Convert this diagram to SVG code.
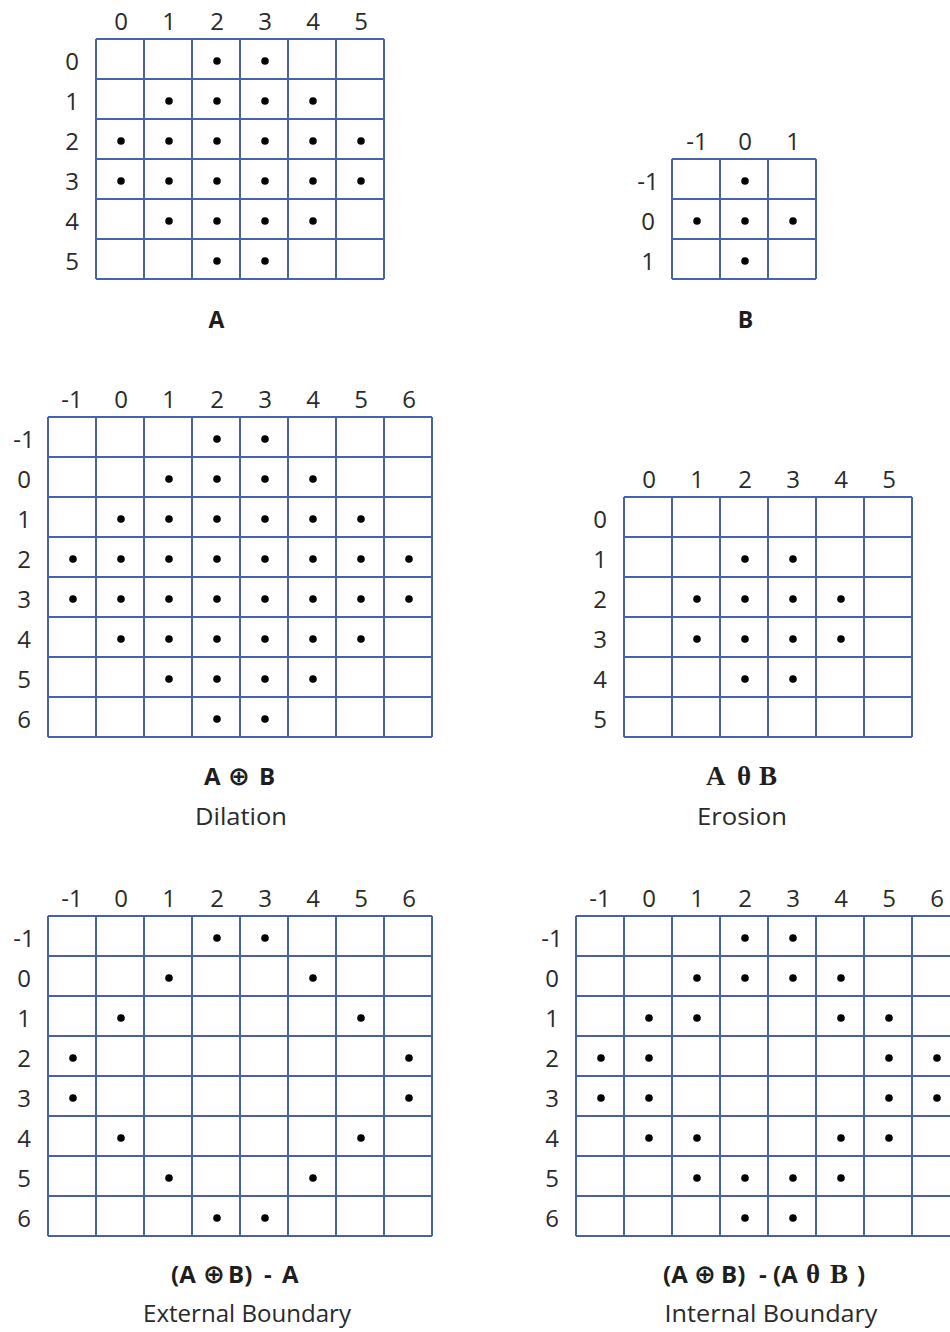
<svg xmlns="http://www.w3.org/2000/svg" width="950" height="1332" viewBox="0 0 950 1332">
<style>
.grid{fill:none;stroke:#4763a6;stroke-width:2}
.dot{fill:#000}
.ax{font-family:"Open Sans","Liberation Sans",sans-serif;font-size:24px;fill:#2a2a2a;text-anchor:middle}
.cap{font-family:"Open Sans","Liberation Sans",sans-serif;font-size:23px;fill:#2a2a2a;text-anchor:middle}
.ttl{font-family:"Open Sans","Liberation Sans","DejaVu Sans",sans-serif;font-size:24px;font-weight:bold;fill:#1e1e1e;text-anchor:start}
.mid{text-anchor:middle;font-size:23px}
.ser{font-family:"Liberation Serif","DejaVu Serif",serif;font-weight:bold;font-size:27px}
.sym{font-family:"DejaVu Sans",sans-serif;font-weight:bold;font-size:26px}
</style>
<rect width="950" height="1332" fill="#fff"/>

<g id="grid-A">
<path class="grid" d="M96 39V279M144 39V279M192 39V279M240 39V279M288 39V279M336 39V279M384 39V279M96 39H384M96 79H384M96 119H384M96 159H384M96 199H384M96 239H384M96 279H384"/>
<g class="ax"><text x="121" y="30">0</text><text x="169" y="30">1</text><text x="217" y="30">2</text><text x="265" y="30">3</text><text x="313" y="30">4</text><text x="361" y="30">5</text>
<text x="72" y="70">0</text><text x="72" y="110">1</text><text x="72" y="150">2</text><text x="72" y="190">3</text><text x="72" y="230">4</text><text x="72" y="270">5</text></g>
<g class="dot">
<circle cx="217" cy="61" r="3.8"/><circle cx="265" cy="61" r="3.8"/>
<circle cx="169" cy="101" r="3.8"/><circle cx="217" cy="101" r="3.8"/><circle cx="265" cy="101" r="3.8"/><circle cx="313" cy="101" r="3.8"/>
<circle cx="121" cy="141" r="3.8"/><circle cx="169" cy="141" r="3.8"/><circle cx="217" cy="141" r="3.8"/><circle cx="265" cy="141" r="3.8"/><circle cx="313" cy="141" r="3.8"/><circle cx="361" cy="141" r="3.8"/>
<circle cx="121" cy="181" r="3.8"/><circle cx="169" cy="181" r="3.8"/><circle cx="217" cy="181" r="3.8"/><circle cx="265" cy="181" r="3.8"/><circle cx="313" cy="181" r="3.8"/><circle cx="361" cy="181" r="3.8"/>
<circle cx="169" cy="221" r="3.8"/><circle cx="217" cy="221" r="3.8"/><circle cx="265" cy="221" r="3.8"/><circle cx="313" cy="221" r="3.8"/>
<circle cx="217" cy="261" r="3.8"/><circle cx="265" cy="261" r="3.8"/>
</g>
<text class="ttl mid" x="216.5" y="328">A</text>
</g>

<g id="grid-B">
<path class="grid" d="M672 159V279M720 159V279M768 159V279M816 159V279M672 159H816M672 199H816M672 239H816M672 279H816"/>
<g class="ax"><text x="697" y="150">-1</text><text x="745" y="150">0</text><text x="793" y="150">1</text>
<text x="648" y="190">-1</text><text x="648" y="230">0</text><text x="648" y="270">1</text></g>
<g class="dot">
<circle cx="745" cy="181" r="3.8"/>
<circle cx="697" cy="221" r="3.8"/><circle cx="745" cy="221" r="3.8"/><circle cx="793" cy="221" r="3.8"/>
<circle cx="745" cy="261" r="3.8"/>
</g>
<text class="ttl mid" x="745.5" y="328">B</text>
</g>

<g id="grid-dilation">
<path class="grid" d="M48 417V737M96 417V737M144 417V737M192 417V737M240 417V737M288 417V737M336 417V737M384 417V737M432 417V737M48 417H432M48 457H432M48 497H432M48 537H432M48 577H432M48 617H432M48 657H432M48 697H432M48 737H432"/>
<g class="ax"><text x="72" y="408">-1</text><text x="121" y="408">0</text><text x="169" y="408">1</text><text x="217" y="408">2</text><text x="265" y="408">3</text><text x="313" y="408">4</text><text x="361" y="408">5</text><text x="409" y="408">6</text>
<text x="24" y="448">-1</text><text x="24" y="488">0</text><text x="24" y="528">1</text><text x="24" y="568">2</text><text x="24" y="608">3</text><text x="24" y="648">4</text><text x="24" y="688">5</text><text x="24" y="728">6</text></g>
<g class="dot">
<circle cx="217" cy="439" r="3.8"/><circle cx="265" cy="439" r="3.8"/>
<circle cx="169" cy="479" r="3.8"/><circle cx="217" cy="479" r="3.8"/><circle cx="265" cy="479" r="3.8"/><circle cx="313" cy="479" r="3.8"/>
<circle cx="121" cy="519" r="3.8"/><circle cx="169" cy="519" r="3.8"/><circle cx="217" cy="519" r="3.8"/><circle cx="265" cy="519" r="3.8"/><circle cx="313" cy="519" r="3.8"/><circle cx="361" cy="519" r="3.8"/>
<circle cx="73" cy="559" r="3.8"/><circle cx="121" cy="559" r="3.8"/><circle cx="169" cy="559" r="3.8"/><circle cx="217" cy="559" r="3.8"/><circle cx="265" cy="559" r="3.8"/><circle cx="313" cy="559" r="3.8"/><circle cx="361" cy="559" r="3.8"/><circle cx="409" cy="559" r="3.8"/>
<circle cx="73" cy="599" r="3.8"/><circle cx="121" cy="599" r="3.8"/><circle cx="169" cy="599" r="3.8"/><circle cx="217" cy="599" r="3.8"/><circle cx="265" cy="599" r="3.8"/><circle cx="313" cy="599" r="3.8"/><circle cx="361" cy="599" r="3.8"/><circle cx="409" cy="599" r="3.8"/>
<circle cx="121" cy="639" r="3.8"/><circle cx="169" cy="639" r="3.8"/><circle cx="217" cy="639" r="3.8"/><circle cx="265" cy="639" r="3.8"/><circle cx="313" cy="639" r="3.8"/><circle cx="361" cy="639" r="3.8"/>
<circle cx="169" cy="679" r="3.8"/><circle cx="217" cy="679" r="3.8"/><circle cx="265" cy="679" r="3.8"/><circle cx="313" cy="679" r="3.8"/>
<circle cx="217" cy="719" r="3.8"/><circle cx="265" cy="719" r="3.8"/>
</g>
<text class="ttl" y="785"><tspan x="204">A</tspan><tspan class="sym" x="228">⊕</tspan><tspan x="259">B</tspan></text>
<text class="cap" x="241" y="825" textLength="92" lengthAdjust="spacingAndGlyphs">Dilation</text>
</g>

<g id="grid-erosion">
<path class="grid" d="M624 497V737M672 497V737M720 497V737M768 497V737M816 497V737M864 497V737M912 497V737M624 497H912M624 537H912M624 577H912M624 617H912M624 657H912M624 697H912M624 737H912"/>
<g class="ax"><text x="649" y="488">0</text><text x="697" y="488">1</text><text x="745" y="488">2</text><text x="793" y="488">3</text><text x="841" y="488">4</text><text x="889" y="488">5</text>
<text x="600" y="528">0</text><text x="600" y="568">1</text><text x="600" y="608">2</text><text x="600" y="648">3</text><text x="600" y="688">4</text><text x="600" y="728">5</text></g>
<g class="dot">
<circle cx="745" cy="559" r="3.8"/><circle cx="793" cy="559" r="3.8"/>
<circle cx="697" cy="599" r="3.8"/><circle cx="745" cy="599" r="3.8"/><circle cx="793" cy="599" r="3.8"/><circle cx="841" cy="599" r="3.8"/>
<circle cx="697" cy="639" r="3.8"/><circle cx="745" cy="639" r="3.8"/><circle cx="793" cy="639" r="3.8"/><circle cx="841" cy="639" r="3.8"/>
<circle cx="745" cy="679" r="3.8"/><circle cx="793" cy="679" r="3.8"/>
</g>
<text class="ttl ser" y="785"><tspan x="706">A</tspan><tspan x="737">θ</tspan><tspan x="759">B</tspan></text>
<text class="cap" x="742" y="825" textLength="90" lengthAdjust="spacingAndGlyphs">Erosion</text>
</g>

<g id="grid-external">
<path class="grid" d="M48 916V1236M96 916V1236M144 916V1236M192 916V1236M240 916V1236M288 916V1236M336 916V1236M384 916V1236M432 916V1236M48 916H432M48 956H432M48 996H432M48 1036H432M48 1076H432M48 1116H432M48 1156H432M48 1196H432M48 1236H432"/>
<g class="ax"><text x="72" y="907">-1</text><text x="121" y="907">0</text><text x="169" y="907">1</text><text x="217" y="907">2</text><text x="265" y="907">3</text><text x="313" y="907">4</text><text x="361" y="907">5</text><text x="409" y="907">6</text>
<text x="24" y="947">-1</text><text x="24" y="987">0</text><text x="24" y="1027">1</text><text x="24" y="1067">2</text><text x="24" y="1107">3</text><text x="24" y="1147">4</text><text x="24" y="1187">5</text><text x="24" y="1227">6</text></g>
<g class="dot">
<circle cx="217" cy="938" r="3.8"/><circle cx="265" cy="938" r="3.8"/>
<circle cx="169" cy="978" r="3.8"/><circle cx="313" cy="978" r="3.8"/>
<circle cx="121" cy="1018" r="3.8"/><circle cx="361" cy="1018" r="3.8"/>
<circle cx="73" cy="1058" r="3.8"/><circle cx="409" cy="1058" r="3.8"/>
<circle cx="73" cy="1098" r="3.8"/><circle cx="409" cy="1098" r="3.8"/>
<circle cx="121" cy="1138" r="3.8"/><circle cx="361" cy="1138" r="3.8"/>
<circle cx="169" cy="1178" r="3.8"/><circle cx="313" cy="1178" r="3.8"/>
<circle cx="217" cy="1218" r="3.8"/><circle cx="265" cy="1218" r="3.8"/>
</g>
<text class="ttl" y="1283"><tspan x="171">(A</tspan><tspan class="sym" x="203">⊕</tspan><tspan x="228">B)</tspan><tspan x="264">-</tspan><tspan x="282">A</tspan></text>
<text class="cap" x="247" y="1322" textLength="208" lengthAdjust="spacingAndGlyphs">External Boundary</text>
</g>

<g id="grid-internal">
<path class="grid" d="M576 916V1236M624 916V1236M672 916V1236M720 916V1236M768 916V1236M816 916V1236M864 916V1236M912 916V1236M960 916V1236M576 916H960M576 956H960M576 996H960M576 1036H960M576 1076H960M576 1116H960M576 1156H960M576 1196H960M576 1236H960"/>
<g class="ax"><text x="600" y="907">-1</text><text x="649" y="907">0</text><text x="697" y="907">1</text><text x="745" y="907">2</text><text x="793" y="907">3</text><text x="841" y="907">4</text><text x="889" y="907">5</text><text x="937" y="907">6</text>
<text x="552" y="947">-1</text><text x="552" y="987">0</text><text x="552" y="1027">1</text><text x="552" y="1067">2</text><text x="552" y="1107">3</text><text x="552" y="1147">4</text><text x="552" y="1187">5</text><text x="552" y="1227">6</text></g>
<g class="dot">
<circle cx="745" cy="938" r="3.8"/><circle cx="793" cy="938" r="3.8"/>
<circle cx="697" cy="978" r="3.8"/><circle cx="745" cy="978" r="3.8"/><circle cx="793" cy="978" r="3.8"/><circle cx="841" cy="978" r="3.8"/>
<circle cx="649" cy="1018" r="3.8"/><circle cx="697" cy="1018" r="3.8"/><circle cx="841" cy="1018" r="3.8"/><circle cx="889" cy="1018" r="3.8"/>
<circle cx="601" cy="1058" r="3.8"/><circle cx="649" cy="1058" r="3.8"/><circle cx="889" cy="1058" r="3.8"/><circle cx="937" cy="1058" r="3.8"/>
<circle cx="601" cy="1098" r="3.8"/><circle cx="649" cy="1098" r="3.8"/><circle cx="889" cy="1098" r="3.8"/><circle cx="937" cy="1098" r="3.8"/>
<circle cx="649" cy="1138" r="3.8"/><circle cx="697" cy="1138" r="3.8"/><circle cx="841" cy="1138" r="3.8"/><circle cx="889" cy="1138" r="3.8"/>
<circle cx="697" cy="1178" r="3.8"/><circle cx="745" cy="1178" r="3.8"/><circle cx="793" cy="1178" r="3.8"/><circle cx="841" cy="1178" r="3.8"/>
<circle cx="745" cy="1218" r="3.8"/><circle cx="793" cy="1218" r="3.8"/>
</g>
<text class="ttl" y="1283"><tspan x="663">(A</tspan><tspan class="sym" x="694">⊕</tspan><tspan x="721">B)</tspan><tspan x="759">-</tspan><tspan x="773">(A</tspan><tspan class="ser" x="806">θ</tspan><tspan class="ser" x="830">B</tspan><tspan x="857">)</tspan></text>
<text class="cap" x="771" y="1322" textLength="213" lengthAdjust="spacingAndGlyphs">Internal Boundary</text>
</g>
</svg>
